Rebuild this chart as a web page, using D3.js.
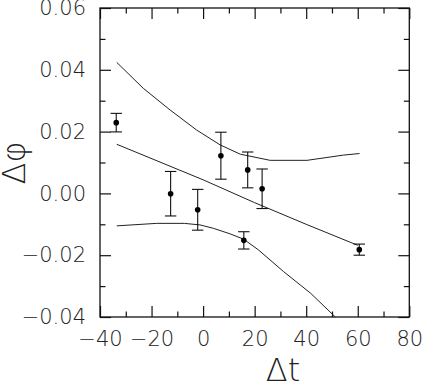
<!DOCTYPE html>
<html lang="en">
	<head>
		<meta charset="utf-8">
		<title>Delta phi vs Delta t</title>
		<script type="text/javascript" src="https://d3js.org/d3.v7.min.js"></script>
		<style type="text/css">
			body { margin: 0; background: #fff; }
			.tick text { font-family: "DejaVu Sans", sans-serif; font-weight: 200; font-size: 21px; fill: #222; }
			.ttl { font-family: "DejaVu Sans", sans-serif; font-weight: 200; font-size: 32px; fill: #222; }
		</style>
	</head>
	<body>
		<script type="text/javascript">

			//Width and height
			var w = 422;
			var h = 383;

			//measured points with error bars
			var tData   = [-33.7, -12.6, -2.1, 6.9, 17.3, 22.9, 15.8, 60.6];
			var phiData = [0.0229, -0.0001, -0.0053, 0.0122, 0.0076, 0.0015, -0.0152, -0.0182];
			var phiErr  = [0.0030, 0.0072, 0.0066, 0.0076, 0.0058, 0.0064, 0.0028, 0.0018];

			//fit line and its upper / lower band
			var fitT   = [-33.5, 0, 20, 40, 60];
			var fitPhi = [0.0159, 0.0044, -0.0030, -0.0100, -0.0168];
			var upT    = [-33.5, -23.2, -12.8, -2.5, 6.6, 14.4, 26, 40.3, 54.5, 60.7];
			var upPhi  = [0.0424, 0.0340, 0.0270, 0.0205, 0.0157, 0.0127, 0.0107, 0.0107, 0.0124, 0.0129];
			var loT    = [-33.5, -18, -7.3, -1.2, 4, 10.5, 15.7, 21.5, 31.2, 41.7, 51.3];
			var loPhi  = [-0.0105, -0.0097, -0.0097, -0.0102, -0.0113, -0.0131, -0.0148, -0.0183, -0.0253, -0.0323, -0.0400];

			//ticks
			var xMajor = [-40, -20, 0, 20, 40, 60, 80];
			var xMinor = [-30, -10, 10, 30, 50, 70];
			var yMajor = [-0.04, -0.02, 0.00, 0.02, 0.04, 0.06];
			var yMinor = [-0.03, -0.01, 0.01, 0.03, 0.05];

			var x = d3.scaleLinear().domain([-40, 80]).range([100, 409.3]);
			var y = d3.scaleLinear().domain([-0.04, 0.06]).range([317, 8]);

			var svg = d3.select("body")
						.append("svg")
						.attr("width", w)
						.attr("height", h);

			var fmtX = function(d) { return String(d).replace("-", "\u2212"); };
			var fmtY = function(d) { return d3.format(".2f")(d).replace("-", "\u2212"); };

			//axes, ticks pointing inward
			function addAxis(axis, tx, ty) {
				var g = svg.append("g")
					.attr("transform", "translate(" + tx + "," + ty + ")")
					.call(axis);
				g.select(".domain").remove();
				g.selectAll("line").attr("stroke", "#111").attr("stroke-width", 1.2);
				return g;
			}

			addAxis(d3.axisBottom(x).tickValues(xMajor).tickSize(-11).tickPadding(14).tickFormat(fmtX), 0, 317);
			addAxis(d3.axisBottom(x).tickValues(xMinor).tickSize(-5.5).tickFormat(""), 0, 317);
			addAxis(d3.axisTop(x).tickValues(xMajor).tickSize(-11).tickFormat(""), 0, 8);
			addAxis(d3.axisTop(x).tickValues(xMinor).tickSize(-5.5).tickFormat(""), 0, 8);
			addAxis(d3.axisLeft(y).tickValues(yMajor).tickSize(-11).tickPadding(14).tickFormat(fmtY), 100, 0);
			addAxis(d3.axisLeft(y).tickValues(yMinor).tickSize(-5.5).tickFormat(""), 100, 0);
			addAxis(d3.axisRight(y).tickValues(yMajor).tickSize(-11).tickFormat(""), 409.3, 0);
			addAxis(d3.axisRight(y).tickValues(yMinor).tickSize(-5.5).tickFormat(""), 409.3, 0);

			//frame
			svg.append("rect")
				.attr("x", x(-40)).attr("y", y(0.06))
				.attr("width", x(80) - x(-40)).attr("height", y(-0.04) - y(0.06))
				.attr("fill", "none").attr("stroke", "#111").attr("stroke-width", 1.3);

			//curves
			var line = d3.line()
				.x(function(d) { return x(d[0]); })
				.y(function(d) { return y(d[1]); });

			[[fitT, fitPhi], [upT, upPhi], [loT, loPhi]].forEach(function(c) {
				svg.append("path")
					.datum(d3.zip(c[0], c[1]))
					.attr("d", line)
					.attr("fill", "none")
					.attr("stroke", "#222")
					.attr("stroke-width", 1);
			});

			//error bars
			var pts = d3.range(tData.length).map(function(i) {
				return { t: tData[i], p: phiData[i], e: phiErr[i] };
			});
			var eb = svg.append("g").attr("stroke", "#111").attr("stroke-width", 1.1);
			pts.forEach(function(d) {
				var cx = x(d.t), y1 = y(d.p + d.e), y2 = y(d.p - d.e);
				eb.append("line").attr("x1", cx).attr("x2", cx).attr("y1", y1).attr("y2", y2);
				eb.append("line").attr("x1", cx - 5.7).attr("x2", cx + 5.7).attr("y1", y1).attr("y2", y1);
				eb.append("line").attr("x1", cx - 5.7).attr("x2", cx + 5.7).attr("y1", y2).attr("y2", y2);
			});

			svg.selectAll("circle.pt")
				.data(pts)
				.enter()
				.append("circle")
				.attr("class", "pt")
				.attr("cx", function(d) { return x(d.t); })
				.attr("cy", function(d) { return y(d.p); })
				.attr("r", 2.8)
				.attr("fill", "#000");

			//axis titles
			svg.append("text")
				.attr("class", "ttl")
				.attr("x", 283).attr("y", 381)
				.attr("text-anchor", "middle")
				.text("\u0394t");

			svg.append("text")
				.attr("class", "ttl")
				.attr("text-anchor", "middle")
				.attr("transform", "translate(25,163) rotate(-90)")
				.text("\u0394\u03c6");

		</script>
	</body>
</html>
